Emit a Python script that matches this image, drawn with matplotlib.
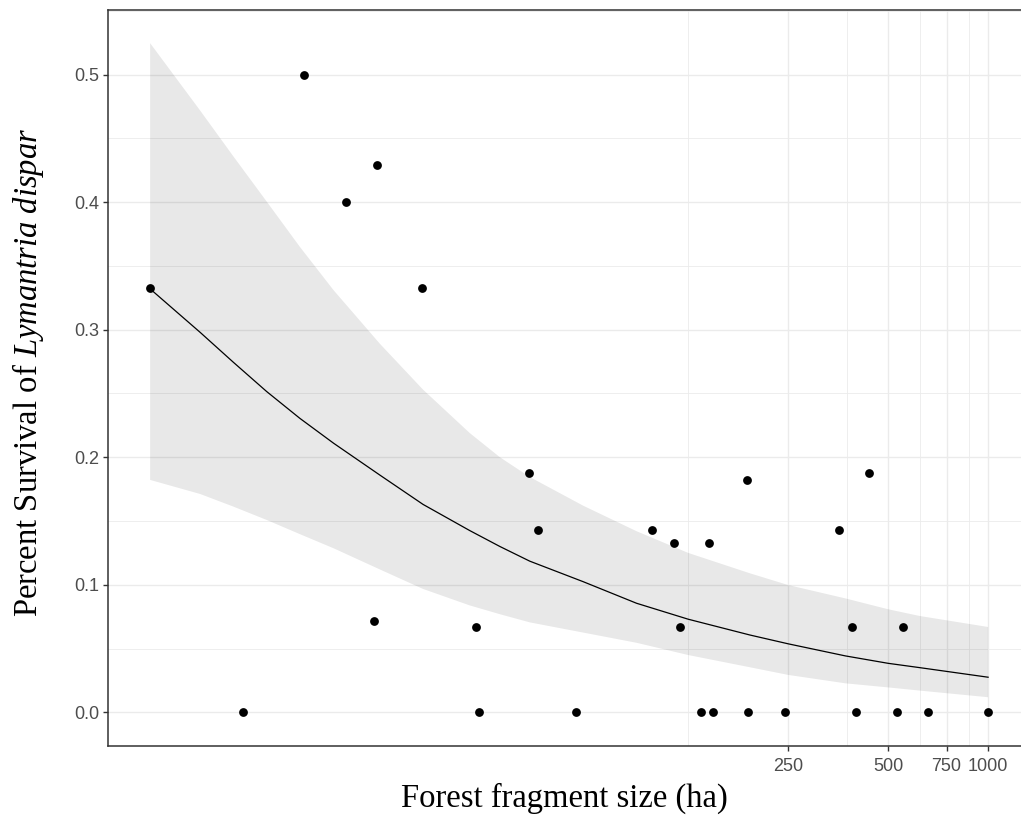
"""
Survie de Lymantria dispar selon la taille du fragment forestier.
Points observés + ajustement logistique (ligne) et son intervalle (ruban).
"""

import matplotlib
matplotlib.use("Agg")
import matplotlib.pyplot as plt
import numpy as np

# ── Data ─────────────────────────────────────────────────────────────────────

# observed fragments (ha) and survival
size_ha = [3.0, 5.7, 8.7, 11.7, 14.5, 14.2, 19.8, 28.7, 29.3, 41.5,
           44.1, 57.3, 97.4, 113, 118, 137, 144, 149, 188, 189,
           245, 355, 389, 400, 437, 530, 556, 660, 1000]
survival = [0.333, 0.0, 0.5, 0.4, 0.429, 0.0714, 0.333, 0.0667, 0.0, 0.1875,
            0.143, 0.0, 0.143, 0.133, 0.0667, 0.0, 0.133, 0.0, 0.182, 0.0,
            0.0, 0.143, 0.0667, 0.0, 0.1875, 0.0, 0.0667, 0.0, 0.0]

# fitted curve and confidence band
fit_x = [3.0, 4.24, 5.34, 6.73, 8.47, 10.7, 14.75, 19.9, 27.5, 33.9,
         41.7, 60.4, 87.4, 125, 191.8, 250, 372, 500, 623, 1000]
fit_y = [0.332, 0.298, 0.2745, 0.2515, 0.2305, 0.211, 0.186, 0.163, 0.1425, 0.130,
         0.1185, 0.1024, 0.0855, 0.073, 0.0606, 0.0537, 0.0442, 0.0384, 0.035, 0.0275]
fit_hi = [0.5247, 0.472, 0.436, 0.4005, 0.365, 0.331, 0.289, 0.253, 0.219, 0.200,
          0.1845, 0.162, 0.142, 0.125, 0.109, 0.0998, 0.0893, 0.0808, 0.0755, 0.0669]
fit_lo = [0.1822, 0.1712, 0.1613, 0.1508, 0.1397, 0.1286, 0.112, 0.0967, 0.0838, 0.0769,
          0.0705, 0.0625, 0.0545, 0.0449, 0.0353, 0.0293, 0.0227, 0.0195, 0.017, 0.0118]

x_breaks = [250, 500, 750, 1000]
x_minor = [125, 375, 625, 875]
y_breaks = [0.0, 0.1, 0.2, 0.3, 0.4, 0.5]
y_minor = [0.05, 0.15, 0.25, 0.35, 0.45, 0.55]

# ── Style ────────────────────────────────────────────────────────────────────

plt.rcParams["font.family"] = ["Liberation Sans", "DejaVu Sans"]
plt.rcParams["mathtext.fontset"] = "custom"
plt.rcParams["mathtext.rm"] = "Liberation Serif"
plt.rcParams["mathtext.it"] = "Liberation Serif:italic"

W, H = 1021, 816
fig = plt.figure(figsize=(W / 100, H / 100), dpi=100)

# panel: left 108px, top 10px, bottom 745.7px, right border cropped off (~1030px)
left, top, bottom, right = 108, 10, 745.7, 1030
ax = fig.add_axes([left / W, 1 - bottom / H, (right - left) / W, (bottom - top) / H])

ax.set_xscale("log")
ax.set_xlim(2.24, 1337)
ax.set_ylim(-0.0262, 0.5507)

# grid (theme_bw look)
ax.set_xticks(x_breaks)
ax.set_xticklabels([str(b) for b in x_breaks])
ax.set_xticks(x_minor, minor=True)
ax.set_xticklabels([], minor=True)
ax.set_yticks(y_breaks)
ax.set_yticklabels([f"{b:.1f}" for b in y_breaks])
ax.set_yticks(y_minor, minor=True)

ax.grid(which="major", color="#EBEBEB", linewidth=1.0, zorder=0)
ax.grid(which="minor", color="#EBEBEB", linewidth=0.6, zorder=0)
ax.set_axisbelow(True)

ax.tick_params(which="major", length=3.5, width=1.0, color="#333333",
               labelsize=13, labelcolor="#4D4D4D")
ax.tick_params(axis="x", which="major", pad=5.0)
ax.tick_params(axis="y", which="major", pad=2.8)
ax.tick_params(which="minor", length=0)
for sp in ax.spines.values():
    sp.set_color("#333333")
    sp.set_linewidth(1.1)

# ── Marks ────────────────────────────────────────────────────────────────────

ax.fill_between(fit_x, fit_lo, fit_hi, facecolor="black", alpha=0.09,
                linewidth=0, zorder=1)
ax.plot(fit_x, fit_y, color="black", linewidth=0.9, zorder=2)
ax.scatter(size_ha, survival, s=40, color="black", linewidths=0, zorder=3)

# ── Axis titles ──────────────────────────────────────────────────────────────

fig.text(564 / W, 1 - 807 / H, "Forest fragment size (ha)",
         family="Liberation Serif", fontsize=23.5, color="black",
         ha="center", va="baseline")
fig.text(37 / W, 1 - 372 / H, r"Percent Survival of $\it{Lymantria\ dispar}$",
         family="Liberation Serif", fontsize=23.5, color="black",
         rotation=90, rotation_mode="anchor", ha="center", va="baseline")

fig.savefig("out.png", dpi=100)
